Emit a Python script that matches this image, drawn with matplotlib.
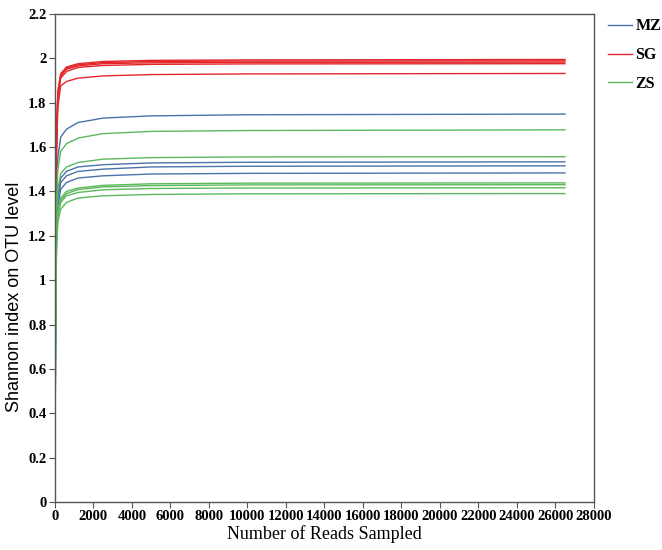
import matplotlib.pyplot as plt

READS = [0, 30, 80, 150, 300, 600, 1200, 2500, 5000, 10000, 26500]

MZ_CURVES = [
    [0, 0.95, 1.40, 1.55, 1.645, 1.68, 1.71, 1.73, 1.74, 1.745, 1.748],
    [0, 0.85, 1.25, 1.38, 1.46, 1.49, 1.51, 1.52, 1.528, 1.531, 1.533],
    [0, 0.84, 1.23, 1.36, 1.44, 1.47, 1.49, 1.50, 1.510, 1.513, 1.515],
    [0, 0.82, 1.20, 1.33, 1.41, 1.44, 1.46, 1.47, 1.478, 1.481, 1.483],
]

SG_CURVES = [
    [0, 1.15, 1.65, 1.85, 1.93, 1.96, 1.975, 1.985, 1.99, 1.992, 1.994],
    [0, 1.13, 1.63, 1.84, 1.925, 1.955, 1.97, 1.98, 1.985, 1.987, 1.988],
    [0, 1.12, 1.62, 1.83, 1.92, 1.95, 1.965, 1.975, 1.979, 1.981, 1.982],
    [0, 1.10, 1.60, 1.82, 1.91, 1.94, 1.958, 1.967, 1.972, 1.974, 1.975],
    [0, 1.05, 1.55, 1.78, 1.875, 1.895, 1.91, 1.92, 1.926, 1.929, 1.931],
]

ZS_CURVES = [
    [0, 0.90, 1.35, 1.50, 1.58, 1.615, 1.64, 1.66, 1.670, 1.674, 1.677],
    [0, 0.85, 1.27, 1.41, 1.48, 1.51, 1.53, 1.545, 1.552, 1.555, 1.556],
    [0, 0.80, 1.18, 1.31, 1.37, 1.40, 1.415, 1.427, 1.434, 1.437, 1.438],
    [0, 0.79, 1.17, 1.30, 1.36, 1.39, 1.408, 1.420, 1.426, 1.429, 1.430],
    [0, 0.78, 1.16, 1.29, 1.35, 1.38, 1.395, 1.407, 1.413, 1.415, 1.416],
    [0, 0.76, 1.13, 1.26, 1.32, 1.35, 1.37, 1.38, 1.386, 1.389, 1.390],
]

GROUPS = [("MZ", MZ_CURVES, "#4a72ab"), ("SG", SG_CURVES, "#e3262b"), ("ZS", ZS_CURVES, "#5cb85c")]

X_TICKS = list(range(0, 28001, 2000))
Y_TICKS = [0, 0.2, 0.4, 0.6, 0.8, 1, 1.2, 1.4, 1.6, 1.8, 2, 2.2]

serif = "Liberation Serif"

fig = plt.figure(figsize=(6.62, 5.5), dpi=100)
ax = fig.add_axes([0.083, 0.087, 0.814, 0.888])

for name, curves, color in GROUPS:
    for i, vals in enumerate(curves):
        ax.plot(READS, vals, color=color, lw=1.0, label=name if i == 0 else None)

ax.set_xlim(0, 28000)
ax.set_ylim(0, 2.2)
ax.set_xticks(X_TICKS)
ax.set_yticks(Y_TICKS)
ax.set_xticklabels([str(t) for t in X_TICKS], fontfamily=serif, fontweight="bold", fontsize=10.5)
ax.set_yticklabels([f"{t:g}" for t in Y_TICKS], fontfamily=serif, fontweight="bold", fontsize=10.5)
ax.tick_params(direction="out", length=4, width=0.8, color="#555555", pad=2)

for sp in ax.spines.values():
    sp.set_color("#555555")
    sp.set_linewidth(1.0)

ax.set_xlabel("Number of Reads Sampled", fontfamily=serif, fontsize=13, labelpad=1)
ax.set_ylabel("Shannon index on OTU level", fontfamily="Liberation Sans", fontsize=13, labelpad=1)
ax.yaxis.set_label_coords(-0.06, 0.42)

leg = ax.legend(loc="upper left", bbox_to_anchor=(1.0, 1.02), frameon=False,
                prop={"family": serif, "weight": "bold", "size": 11.5},
                handlelength=1.5, handletextpad=0.2, labelspacing=0.8)

fig.savefig("out.png", dpi=100)
